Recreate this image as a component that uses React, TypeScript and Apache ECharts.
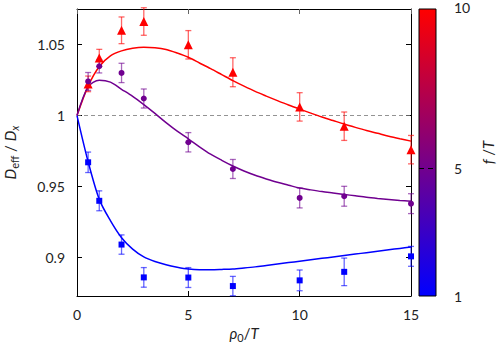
import React, { useEffect, useRef } from "react";
import * as echarts from "echarts";

// ---- data ----
const pointX = [0.5, 1, 2, 3, 5, 7, 10, 12, 15];
const redY = [1.0223, 1.0406, 1.06, 1.0662, 1.0498, 1.0305, 1.0061, 0.9925, 0.976];
const redErr = [0.0055, 0.006, 0.0094, 0.0097, 0.01, 0.0102, 0.01, 0.01, 0.01];
const purpleY = [1.024, 1.0347, 1.03, 1.012, 0.9812, 0.9624, 0.942, 0.9432, 0.938];
const purpleErr = [0.0063, 0.0047, 0.0068, 0.0067, 0.0068, 0.0067, 0.007, 0.007, 0.007];
const blueY = [0.9671, 0.94, 0.9092, 0.8861, 0.886, 0.88, 0.884, 0.89, 0.9009];
const blueErr = [0.0072, 0.007, 0.0068, 0.0069, 0.007, 0.0068, 0.0073, 0.0097, 0.007];

const curveX = [0, 0.5, 1, 1.5, 2, 2.5, 3, 3.5, 4, 4.5, 5, 5.5, 6, 6.5, 7, 7.5, 8, 8.5, 9, 9.5, 10, 10.5, 11, 11.5, 12, 12.5, 13, 13.5, 14, 14.5, 15];
const redCurve = [1, 1.0207, 1.0345, 1.042, 1.0455, 1.0473, 1.048, 1.0477, 1.0465, 1.044, 1.041, 1.037, 1.033, 1.0288, 1.0246, 1.0207, 1.017, 1.0137, 1.0105, 1.0074, 1.0045, 1.0017, 0.999, 0.9965, 0.994, 0.9917, 0.9895, 0.9875, 0.9855, 0.9837, 0.982];
const purpleCurve = [1, 1.0202, 1.0248, 1.0235, 1.0185, 1.0135, 1.0077, 1.0015, 0.995, 0.989, 0.9836, 0.978, 0.9728, 0.9685, 0.9645, 0.961, 0.958, 0.9554, 0.953, 0.951, 0.949, 0.9477, 0.9465, 0.9455, 0.9445, 0.9435, 0.9425, 0.9417, 0.941, 0.9403, 0.9397];
const blueCurve = [1, 0.9675, 0.941, 0.926, 0.914, 0.906, 0.9005, 0.8973, 0.895, 0.8933, 0.892, 0.8915, 0.8915, 0.8917, 0.892, 0.8927, 0.8935, 0.8945, 0.8955, 0.8965, 0.8975, 0.8985, 0.8995, 0.9005, 0.9015, 0.9025, 0.9035, 0.9045, 0.9055, 0.9065, 0.9075];

const yTicks = [0.9, 0.95, 1, 1.05];
const yMin = 0.873;
const yMax = 1.075;
const refLine = 1;
const cbMin = 1;
const cbMax = 10;
const cbTicks = [1, 5, 10];
const cbMid = 5;

const RED = "#ff0000";
const PURPLE = "#700090";
const BLUE = "#0000ff";
const FONT = "Lato";

const zip = (xs: number[], ys: number[]) => xs.map((x, i) => [x, ys[i]]);
const zip3 = (xs: number[], ys: number[], es: number[]) => xs.map((x, i) => [x, ys[i], es[i]]);

const errRender = (color: string) => (params: any, api: any) => {
  const x = api.value(0);
  const y = api.value(1);
  const e = api.value(2);
  const hi = api.coord([x, y + e]);
  const lo = api.coord([x, y - e]);
  const w = 3;
  const style = { stroke: color, lineWidth: 1.3, opacity: 0.6 };
  return {
    type: "group",
    children: [
      { type: "line", shape: { x1: hi[0], y1: hi[1], x2: lo[0], y2: lo[1] }, style },
      { type: "line", shape: { x1: hi[0] - w, y1: hi[1], x2: hi[0] + w, y2: hi[1] }, style },
      { type: "line", shape: { x1: lo[0] - w, y1: lo[1], x2: lo[0] + w, y2: lo[1] }, style },
    ],
  };
};

const rich = {
  i: { fontFamily: FONT, fontSize: 15, fontStyle: "italic", lineHeight: 20, verticalAlign: "middle", color: "#222" },
  n: { fontFamily: FONT, fontSize: 15, lineHeight: 20, verticalAlign: "middle", color: "#222" },
  s: { fontFamily: FONT, fontSize: 11, lineHeight: 11, verticalAlign: "bottom", color: "#222" },
  si: { fontFamily: FONT, fontSize: 11, fontStyle: "italic", lineHeight: 11, verticalAlign: "bottom", color: "#222" },
};

export default function App() {
  const ref = useRef<HTMLDivElement>(null);
  useEffect(() => {
    document.body.style.margin = "0";
    const chart = echarts.init(ref.current!, null, { renderer: "svg" });
    const labelStyle = { fontFamily: FONT, fontSize: 14, color: "#222" };
    const axisLine = { show: true, onZero: false, lineStyle: { color: "#000", width: 1 } };
    const curve = (data: number[], color: string) => ({
      type: "line", data: zip(curveX, data), showSymbol: false, smooth: 0.3,
      lineStyle: { color, width: 1.5 }, itemStyle: { color }, z: 3,
    });
    chart.setOption({
      animation: false,
      grid: [
        { left: 77, top: 9, width: 334, height: 287, outerBoundsMode: "none", containLabel: false },
        { left: 419, top: 9, width: 17, height: 287, outerBoundsMode: "none", containLabel: false },
      ],
      xAxis: [
        {
          type: "value", gridIndex: 0, min: 0, max: 15, interval: 5,
          axisLine, axisTick: { inside: true, length: 5, lineStyle: { color: "#000" } },
          axisLabel: { ...labelStyle, margin: 11 },
          splitLine: { show: false },
          name: "{i|ρ}{s|0}{n|/}{i|T}", nameLocation: "middle", nameGap: 24,
          nameTextStyle: { rich },
        },
        {
          type: "value", gridIndex: 0, min: 0, max: 15, interval: 5, position: "top",
          axisLine, axisTick: { inside: true, length: 5, lineStyle: { color: "#666" } },
          axisLabel: { show: false }, splitLine: { show: false },
        },
        { type: "value", gridIndex: 1, min: 0, max: 1, show: false },
      ],
      yAxis: [
        {
          type: "value", gridIndex: 0, min: yMin, max: yMax,
          axisLine,
          axisTick: { inside: true, length: 5, customValues: yTicks, lineStyle: { color: "#000" } },
          axisLabel: { ...labelStyle, margin: 12, customValues: yTicks, formatter: (v: number) => String(+v.toFixed(2)) },
          splitLine: { show: false },
          name: "{i|D}{s|eff}{n| / }{i|D}{si|x}", nameLocation: "middle", nameGap: 57, nameRotate: 90,
          nameTextStyle: { rich },
        },
        {
          type: "value", gridIndex: 0, min: yMin, max: yMax, position: "right",
          axisLine,
          axisTick: { inside: true, length: 5, customValues: yTicks, lineStyle: { color: "#000" } },
          axisLabel: { show: false }, splitLine: { show: false },
        },
        {
          type: "value", gridIndex: 1, min: cbMin, max: cbMax, position: "right",
          axisLine: { show: false }, axisTick: { show: false },
          axisLabel: {
            ...labelStyle, margin: 18, customValues: cbTicks,
            formatter: (v: number) => (v === cbMax ? `{up|${v}}` : `${v}`),
            rich: { up: { ...labelStyle, padding: [0, 0, 3, 0] } },
          },
          splitLine: { show: false },
          name: "{i|f}{n| /}{i|T}", nameLocation: "middle", nameGap: 42, nameRotate: 90,
          nameTextStyle: { rich },
        },
      ],
      series: [
        {
          type: "custom", xAxisIndex: 2, yAxisIndex: 2, silent: true,
          data: [[0, cbMin, 1, cbMax]],
          renderItem: (params: any, api: any) => {
            const a = api.coord([api.value(0), api.value(1)]);
            const b = api.coord([api.value(2), api.value(3)]);
            return {
              type: "rect",
              shape: { x: a[0], y: b[1], width: b[0] - a[0], height: a[1] - b[1] },
              style: {
                fill: new echarts.graphic.LinearGradient(0, 0, 0, 1, [
                  { offset: 0, color: RED },
                  { offset: 1, color: BLUE },
                ]),
                stroke: "#000", lineWidth: 1,
              },
            };
          },
          markLine: {
            silent: true, symbol: "none", label: { show: false },
            lineStyle: { color: "#000", type: [5, 4], width: 1.2 },
            data: [{ yAxis: cbMid }],
          },
        },
        {
          ...curve(redCurve, RED),
          markLine: {
            silent: true, symbol: "none", label: { show: false },
            lineStyle: { color: "#777", type: [4, 3], width: 0.8 },
            data: [{ yAxis: refLine }], z: 1,
          },
        },
        curve(purpleCurve, PURPLE),
        curve(blueCurve, BLUE),
        { type: "custom", data: zip3(pointX, redY, redErr), renderItem: errRender(RED), clip: false, z: 4 },
        { type: "custom", data: zip3(pointX, purpleY, purpleErr), renderItem: errRender(PURPLE), clip: false, z: 4 },
        { type: "custom", data: zip3(pointX, blueY, blueErr), renderItem: errRender(BLUE), clip: false, z: 4 },
        { type: "scatter", data: zip(pointX, redY), symbol: "triangle", symbolSize: 9, itemStyle: { color: RED, opacity: 1 }, clip: false, z: 5 },
        { type: "scatter", data: zip(pointX, purpleY), symbol: "circle", symbolSize: 6, itemStyle: { color: PURPLE, opacity: 1 }, clip: false, z: 5 },
        { type: "scatter", data: zip(pointX, blueY), symbol: "rect", symbolSize: 6, itemStyle: { color: BLUE, opacity: 1 }, clip: false, z: 5 },
      ],
    });
    return () => chart.dispose();
  }, []);
  return <div ref={ref} style={{ width: 498, height: 354 }} />;
}
